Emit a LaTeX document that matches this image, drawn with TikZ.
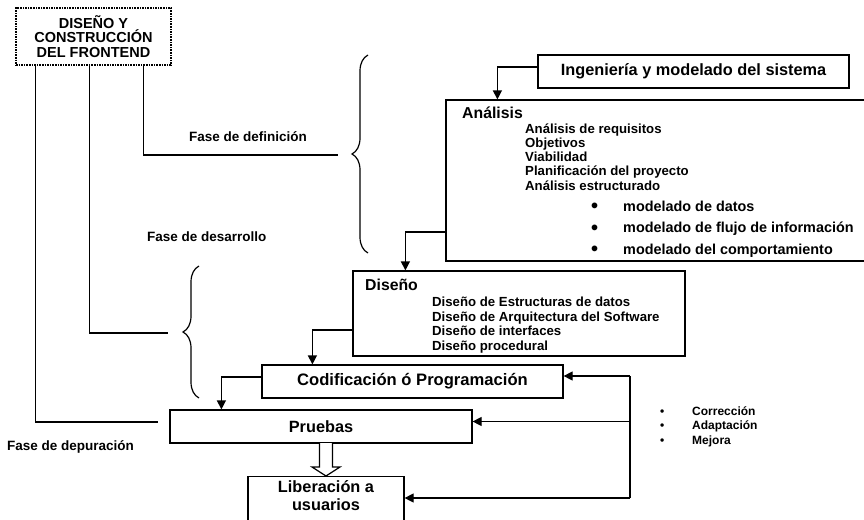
\documentclass[tikz,border=0pt]{standalone}
\usepackage{fontspec}
\setmainfont{Liberation Sans}
\usepackage{tikz}
\usetikzlibrary{
    arrows.meta,
    positioning,
    calc,
    decorations.pathreplacing
}
\tikzset{
    % Plain boxes of the life cycle
    phasebox/.style={
        draw,
        line width=1.2pt,
        rectangle,
        inner sep=0pt,
        align=center,
        font=\bfseries\fontsize{16.3}{18}\selectfont,
    },
    % Dotted title box
    titlebox/.style={
        draw,
        densely dotted,
        line width=1.6pt,
        inner sep=0pt,
        align=center,
        font=\bfseries\fontsize{14.5}{14.5}\selectfont,
    },
    % Lists inside the boxes
    itemlist/.style={
        inner sep=0pt,
        align=left,
        anchor=west,
        font=\bfseries\fontsize{13.2}{14.2}\selectfont,
    },
    boxtitle/.style={
        inner sep=0pt,
        anchor=west,
        font=\bfseries\fontsize{15.8}{18}\selectfont,
    },
    % Phase labels
    phaselabel/.style={
        inner sep=0pt,
        anchor=west,
        font=\bfseries\fontsize{13.5}{15}\selectfont,
    },
    % Connectors
    link/.style={line width=1.2pt},
    arrow/.style={
        -{Triangle[length=9pt, width=9pt]},
        line width=1.2pt,
    },
    bracket/.style={
        decorate,
        decoration={brace, amplitude=16pt},
        line width=1.2pt,
    },
}
\newcommand{\bigbul}{\raisebox{-1.5pt}{\fontsize{20}{20}\selectfont\textbullet}}

\begin{document}
\begin{tikzpicture}[x=1pt, y=-1pt]
    \useasboundingbox (0,0) rectangle (864,519);

    \node (front) [titlebox, minimum width=155pt, minimum height=57pt] at (93.5,36.5) {DISEÑO Y\\CONSTRUCCIÓN\\DEL FRONTEND};

    \node (ing) [phasebox, minimum width=311pt, minimum height=33pt] at (693.5,71.5) {Ingeniería y modelado del sistema};
    \node (anal) [phasebox, minimum width=434pt, minimum height=161pt] at (663,180.5) {};
    \node (dis) [phasebox, minimum width=332pt, minimum height=85pt] at (519,313.5) {};
    \node (cod) [phasebox, minimum width=301pt, minimum height=33pt, font=\bfseries\fontsize{16.6}{18}\selectfont] at (412.5,381.5) {Codificación ó Programación};
    \node (pru) [phasebox, minimum width=302pt, minimum height=33pt] at (321,426.5) {Pruebas};
    \node (lib) [phasebox, minimum width=156pt, anchor=north, inner ysep=4pt, text depth=24pt] at (326,476) {Liberación a\\usuarios};

    % contents of Analisis
    \node (analtitle) [boxtitle] at (462,113) {Análisis};
    \node (anallist) [itemlist] at (525,157) {Análisis de requisitos\\Objetivos\\Viabilidad\\Planificación del proyecto\\Análisis estructurado};
    \node (modlist) [itemlist, font=\bfseries\fontsize{14.4}{21.5}\selectfont] at (591,229) {\makebox[32pt][l]{\bigbul}modelado de datos\\\makebox[32pt][l]{\bigbul}modelado de flujo de información\\\makebox[32pt][l]{\bigbul}modelado del comportamiento};

    % contents of Diseno
    \node (distitle) [boxtitle] at (365,285) {Diseño};
    \node (dislist) [itemlist, font=\bfseries\fontsize{13.2}{14.5}\selectfont] at (432,325) {Diseño de Estructuras de datos\\Diseño de Arquitectura del Software\\Diseño de interfaces\\Diseño procedural};

    % maintenance list
    \node (mantlist) [itemlist, font=\bfseries\fontsize{12}{14.5}\selectfont] at (660,426.5) {\makebox[32pt][l]{\textbullet}Corrección\\\makebox[32pt][l]{\textbullet}Adaptación\\\makebox[32pt][l]{\textbullet}Mejora};

    % phases
    \node (defin) [phaselabel] at (189,137) {Fase de definición};
    \node (desar) [phaselabel] at (147,237) {Fase de desarrollo};
    \node (depur) [phaselabel] at (7,447) {Fase de depuración};

    \draw [bracket] (368,253) -- (368,55);
    \draw [bracket] (199,398) -- (199,266);

    \coordinate (defend) at (338,155);
    \coordinate (desend) at (168,333);
    \coordinate (depend) at (158,422);
    \draw [link] ($(front.south west)+(128,0)$) |- (defend);
    \draw [link] ($(front.south west)+(74,0)$) |- (desend);
    \draw [link] ($(front.south west)+(20,0)$) |- (depend);

    % flow
    \draw [arrow] ($(ing.west)+(0,-4.5)$) -| ($(anal.north west)+(52,0)$);
    \draw [arrow] ($(anal.west)+(0,51.5)$) -| ($(dis.north west)+(53,0)$);
    \draw [arrow] ($(dis.west)+(0,16.5)$) -| ($(cod.north west)+(51,0)$);
    \draw [arrow] ($(cod.west)+(0,-4.5)$) -| ($(pru.north west)+(52,0)$);
    \draw [line width=1.2pt, fill=white] ($(lib.north)+(-6.5,-33)$) -- ($(lib.north)+(-6.5,-9)$) -- ($(lib.north)+(-14,-9)$) -- (lib.north) -- ($(lib.north)+(14,-9)$) -- ($(lib.north)+(6.5,-9)$) -- ($(lib.north)+(6.5,-33)$);

    % feedback
    \coordinate (fbtop) at (630,376);
    \coordinate (fbbot) at (630,498);
    \draw [link] (fbtop) -- (fbbot);
    \draw [arrow] (fbtop) -- (fbtop -| cod.east);
    \draw [arrow] ($(pru.east -| fbtop)+(0,-5)$) -- ($(pru.east)+(0,-5)$);
    \draw [arrow] (fbbot) -- (fbbot -| lib.east);
\end{tikzpicture}
\end{document}
